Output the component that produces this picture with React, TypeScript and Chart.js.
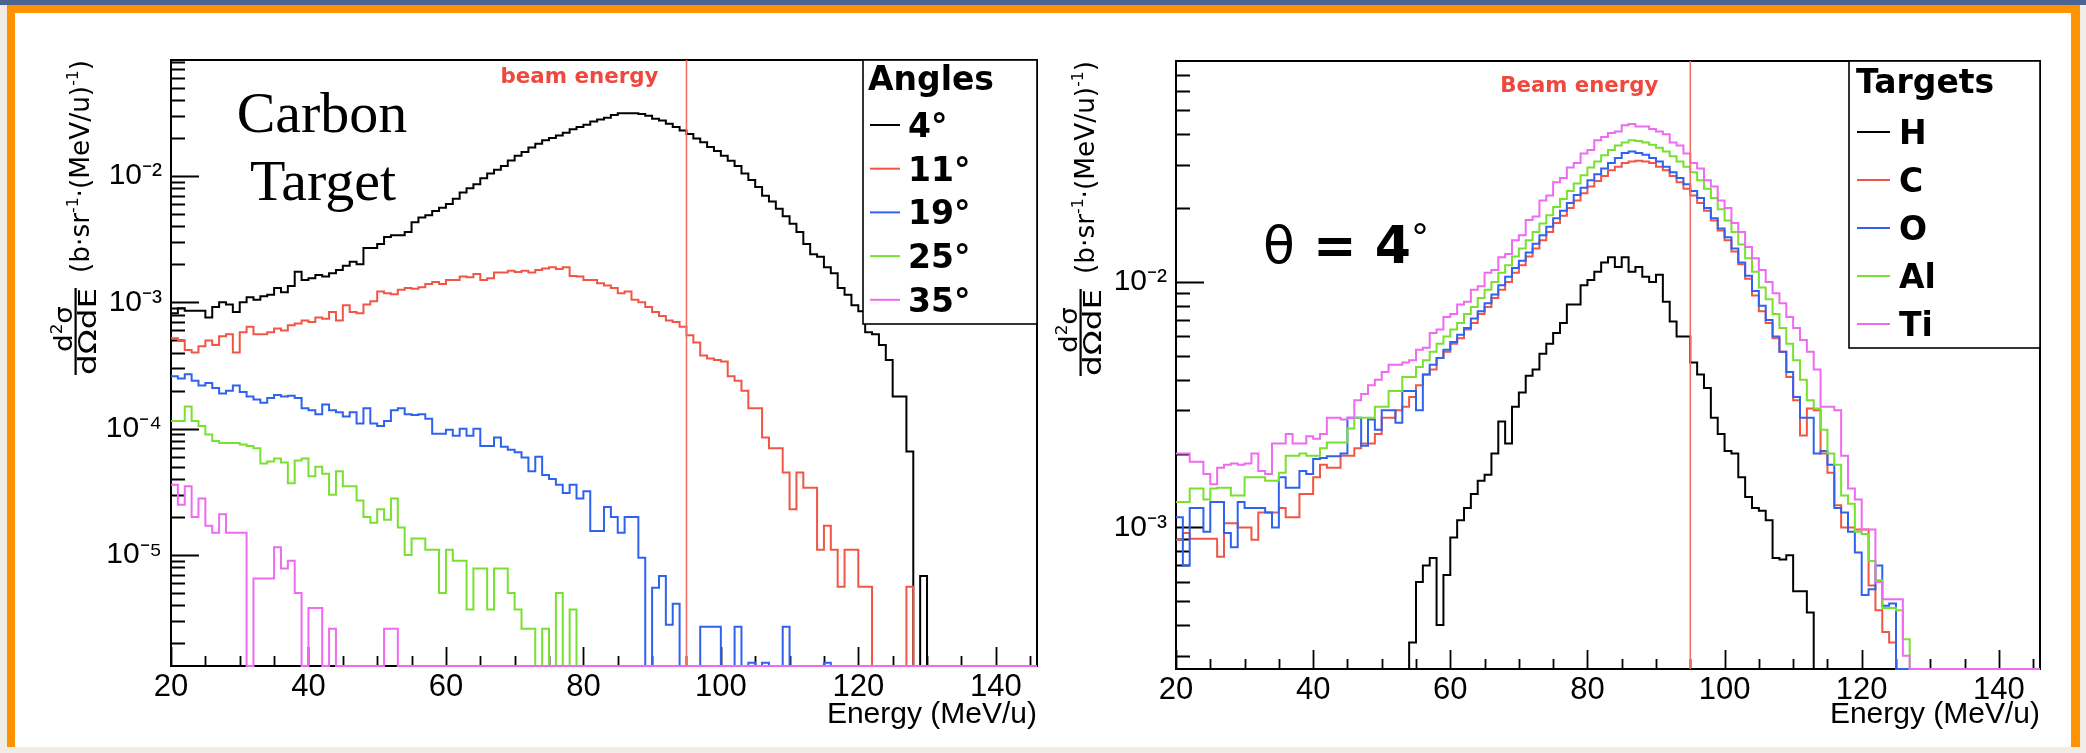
import React, { useEffect, useRef } from 'react';
import { Chart, registerables } from 'chart.js';

Chart.register(...registerables);

// ---------------- categories (1 MeV/u bins, lower edges 20 .. 145) ----------------
const BIN_WIDTH = 1;
const FIRST_BIN = 20;
const N_BINS = 126;
const binLowEdges: number[] = Array.from({ length: N_BINS }, (_, i) => FIRST_BIN + i * BIN_WIDTH);

const X_MIN = 20;
const X_MAX = 146;
const BEAM_ENERGY = 95;

const xTickValues = [20, 25, 30, 35, 40, 45, 50, 55, 60, 65, 70, 75, 80, 85, 90, 95, 100, 105, 110, 115, 120, 125, 130, 135, 140, 145];
const xLabelValues = [20, 40, 60, 80, 100, 120, 140];
const xLabelTexts = ['20', '40', '60', '80', '100', '120', '140'];

// ---------------- left panel: carbon target, several angles ----------------
const angleLabels = ['4°', '11°', '19°', '25°', '35°'];
const angleColors = ['#000000', '#f25545', '#2f62ee', '#78e030', '#ee6af0'];

const carbon4 = [
  8.2e-4, 9.0e-4, 8.6e-4, 8.6e-4, 8.6e-4, 7.6e-4, 9.2e-4, 1.0e-3, 9.6e-4, 8.4e-4,
  1.0e-3, 1.1e-3, 1.05e-3, 1.12e-3, 1.15e-3, 1.3e-3, 1.2e-3, 1.35e-3, 1.75e-3, 1.5e-3,
  1.55e-3, 1.65e-3, 1.6e-3, 1.7e-3, 1.8e-3, 1.95e-3, 2.1e-3, 2.0e-3, 2.7e-3, 2.7e-3,
  2.9e-3, 3.3e-3, 3.4e-3, 3.4e-3, 3.6e-3, 4.3e-3, 4.7e-3, 4.9e-3, 5.3e-3, 5.6e-3,
  6.0e-3, 6.6e-3, 7.4e-3, 8.0e-3, 8.6e-3, 9.6e-3, 1.05e-2, 1.12e-2, 1.2e-2, 1.33e-2,
  1.45e-2, 1.55e-2, 1.68e-2, 1.8e-2, 1.92e-2, 2.0e-2, 2.1e-2, 2.2e-2, 2.35e-2, 2.45e-2,
  2.55e-2, 2.7e-2, 2.8e-2, 2.9e-2, 3.05e-2, 3.15e-2, 3.15e-2, 3.15e-2, 3.1e-2, 3.0e-2,
  2.85e-2, 2.75e-2, 2.6e-2, 2.45e-2, 2.3e-2, 2.15e-2, 1.98e-2, 1.85e-2, 1.7e-2, 1.58e-2,
  1.45e-2, 1.32e-2, 1.2e-2, 1.05e-2, 9.3e-3, 8.2e-3, 7.0e-3, 6.3e-3, 5.5e-3, 4.8e-3,
  4.2e-3, 3.6e-3, 2.9e-3, 2.4e-3, 2.3e-3, 1.9e-3, 1.7e-3, 1.3e-3, 1.15e-3, 9.5e-4,
  8.5e-4, 5.8e-4, 5.6e-4, 4.6e-4, 3.5e-4, 1.8e-4, 1.8e-4, 6.6e-5, 0, 6.8e-6,
  0, 0, 0, 0, 0, 0, 0, 0, 0, 0,
  0, 0, 0, 0, 0, 0,
];
const carbon11 = [
  5.2e-4, 5.0e-4, 4.2e-4, 4.0e-4, 4.5e-4, 5.0e-4, 4.6e-4, 5.4e-4, 5.6e-4, 4.0e-4,
  5.8e-4, 6.4e-4, 5.6e-4, 5.6e-4, 5.8e-4, 6.2e-4, 6.0e-4, 6.6e-4, 6.8e-4, 7.2e-4,
  7.0e-4, 7.6e-4, 7.4e-4, 8.4e-4, 7.2e-4, 9.5e-4, 8.4e-4, 8.2e-4, 9.6e-4, 1.02e-3,
  1.22e-3, 1.18e-3, 1.16e-3, 1.26e-3, 1.3e-3, 1.28e-3, 1.32e-3, 1.4e-3, 1.45e-3, 1.4e-3,
  1.5e-3, 1.5e-3, 1.6e-3, 1.58e-3, 1.68e-3, 1.5e-3, 1.55e-3, 1.72e-3, 1.72e-3, 1.78e-3,
  1.74e-3, 1.78e-3, 1.72e-3, 1.8e-3, 1.85e-3, 1.9e-3, 1.84e-3, 1.9e-3, 1.62e-3, 1.6e-3,
  1.5e-3, 1.5e-3, 1.42e-3, 1.36e-3, 1.3e-3, 1.18e-3, 1.22e-3, 1.05e-3, 1.0e-3, 9.2e-4,
  8.4e-4, 7.8e-4, 7.2e-4, 7.0e-4, 6.4e-4, 5.5e-4, 4.8e-4, 3.8e-4, 3.6e-4, 3.5e-4,
  3.4e-4, 2.6e-4, 2.4e-4, 2.0e-4, 1.45e-4, 1.45e-4, 8.5e-5, 7.0e-5, 7.0e-5, 4.5e-5,
  2.3e-5, 4.5e-5, 3.4e-5, 3.4e-5, 1.1e-5, 1.7e-5, 1.1e-5, 5.6e-6, 1.1e-5, 1.1e-5,
  5.6e-6, 5.6e-6, 0, 0, 0, 0, 0, 5.6e-6, 0, 0,
  0, 0, 0, 0, 0, 0, 0, 0, 0, 0,
  0, 0, 0, 0, 0, 0,
];
const carbon19 = [
  2.6e-4, 2.5e-4, 2.7e-4, 2.4e-4, 2.2e-4, 2.3e-4, 2.1e-4, 1.9e-4, 2.0e-4, 2.2e-4,
  1.95e-4, 1.8e-4, 1.7e-4, 1.6e-4, 1.75e-4, 1.85e-4, 1.8e-4, 1.82e-4, 1.75e-4, 1.45e-4,
  1.4e-4, 1.3e-4, 1.55e-4, 1.4e-4, 1.35e-4, 1.25e-4, 1.35e-4, 1.1e-4, 1.45e-4, 1.1e-4,
  1.05e-4, 1.15e-4, 1.4e-4, 1.45e-4, 1.3e-4, 1.28e-4, 1.3e-4, 1.2e-4, 9.1e-5, 9.1e-5,
  9.8e-5, 8.8e-5, 1.0e-4, 8.8e-5, 1.0e-4, 7.3e-5, 7.3e-5, 8.5e-5, 7.2e-5, 6.8e-5,
  6.5e-5, 5.9e-5, 4.6e-5, 6.0e-5, 4.3e-5, 4.0e-5, 3.6e-5, 3.1e-5, 3.6e-5, 2.8e-5,
  3.2e-5, 1.55e-5, 1.55e-5, 2.4e-5, 2.0e-5, 1.5e-5, 2.0e-5, 2.0e-5, 9.5e-6, 0,
  5.5e-6, 6.8e-6, 2.8e-6, 4.1e-6, 0, 0, 0, 2.7e-6, 2.7e-6, 2.7e-6,
  0, 0, 2.7e-6, 0, 1.4e-6, 0, 1.4e-6, 0, 0, 2.7e-6,
  0, 0, 0, 0, 0, 1.4e-6, 0, 0, 0, 0,
  0, 0, 0, 0, 0, 0, 0, 0, 0, 0,
  0, 0, 0, 0, 0, 0, 0, 0, 0, 0,
  0, 0, 0, 0, 0, 0,
];
const carbon25 = [
  1.15e-4, 1.15e-4, 1.5e-4, 1.15e-4, 1.05e-4, 9.0e-5, 8.0e-5, 7.7e-5, 7.7e-5, 7.7e-5,
  7.5e-5, 7.3e-5, 7.0e-5, 5.3e-5, 5.5e-5, 5.8e-5, 5.4e-5, 3.7e-5, 5.6e-5, 5.8e-5,
  4.2e-5, 5.0e-5, 4.4e-5, 3.0e-5, 4.6e-5, 3.5e-5, 3.5e-5, 2.7e-5, 2.0e-5, 1.8e-5,
  2.3e-5, 1.9e-5, 2.8e-5, 1.65e-5, 1.0e-5, 1.35e-5, 1.35e-5, 1.1e-5, 1.1e-5, 5.0e-6,
  1.1e-5, 9.0e-6, 9.0e-6, 3.7e-6, 7.8e-6, 7.8e-6, 3.7e-6, 7.8e-6, 7.8e-6, 5.0e-6,
  3.7e-6, 2.6e-6, 2.6e-6, 0, 2.6e-6, 0, 5.0e-6, 0, 3.7e-6, 0,
  0, 0, 0, 0, 0, 0, 0, 0, 0, 0,
  0, 0, 0, 0, 0, 0, 0, 0, 0, 0,
  0, 0, 0, 0, 0, 0, 0, 0, 0, 0,
  0, 0, 0, 0, 0, 0, 0, 0, 0, 0,
  0, 0, 0, 0, 0, 0, 0, 0, 0, 0,
  0, 0, 0, 0, 0, 0, 0, 0, 0, 0,
  0, 0, 0, 0, 0, 0,
];
const carbon35 = [
  3.6e-5, 2.5e-5, 3.5e-5, 2.0e-5, 2.8e-5, 1.7e-5, 1.5e-5, 2.1e-5, 1.5e-5, 1.5e-5,
  1.5e-5, 0, 6.5e-6, 6.5e-6, 6.5e-6, 1.15e-5, 7.8e-6, 9.0e-6, 5.0e-6, 0,
  3.8e-6, 3.8e-6, 0, 2.6e-6, 0, 0, 0, 0, 0, 0,
  0, 2.6e-6, 2.6e-6, 0, 0, 0, 0, 0, 0, 0,
  0, 0, 0, 0, 0, 0, 0, 0, 0, 0,
  0, 0, 0, 0, 0, 0, 0, 0, 0, 0,
  0, 0, 0, 0, 0, 0, 0, 0, 0, 0,
  0, 0, 0, 0, 0, 0, 0, 0, 0, 0,
  0, 0, 0, 0, 0, 0, 0, 0, 0, 0,
  0, 0, 0, 0, 0, 0, 0, 0, 0, 0,
  0, 0, 0, 0, 0, 0, 0, 0, 0, 0,
  0, 0, 0, 0, 0, 0, 0, 0, 0, 0,
  0, 0, 0, 0, 0, 0,
];
const leftDecades = [1e-5, 1e-4, 1e-3, 1e-2];
const leftDecadeLabels = ['10⁻⁵', '10⁻⁴', '10⁻³', '10⁻²'];

// ---------------- right panel: theta = 4 deg, several targets ----------------
const targetLabels = ['H', 'C', 'O', 'Al', 'Ti'];
const targetColors = ['#000000', '#f25545', '#2f62ee', '#78e030', '#ee6af0'];

const targetH = [
  0, 0, 0, 0, 0, 0, 0, 0, 0, 0,
  0, 0, 0, 0, 0, 0, 0, 0, 0, 0,
  0, 0, 0, 0, 0, 0, 0, 0, 0, 0,
  0, 0, 0, 0, 3.4e-4, 6.0e-4, 7.0e-4, 7.5e-4, 4.0e-4, 6.4e-4,
  9.1e-4, 1.07e-3, 1.2e-3, 1.37e-3, 1.55e-3, 1.64e-3, 2.0e-3, 2.7e-3, 2.2e-3, 3.1e-3,
  3.55e-3, 4.15e-3, 4.4e-3, 5.1e-3, 5.6e-3, 6.2e-3, 6.8e-3, 8.1e-3, 8.1e-3, 9.7e-3,
  1.02e-2, 1.1e-2, 1.2e-2, 1.26e-2, 1.15e-2, 1.26e-2, 1.1e-2, 1.15e-2, 1.05e-2, 1.0e-2,
  1.07e-2, 8.3e-3, 6.9e-3, 6.0e-3, 6.0e-3, 4.7e-3, 4.2e-3, 3.7e-3, 2.8e-3, 2.4e-3,
  2.05e-3, 2.0e-3, 1.6e-3, 1.33e-3, 1.2e-3, 1.17e-3, 1.07e-3, 7.5e-4, 7.4e-4, 7.7e-4,
  5.5e-4, 5.5e-4, 4.5e-4, 0, 0, 0, 0, 0, 0, 0,
  0, 0, 0, 0, 0, 0, 0, 0, 0, 0,
  0, 0, 0, 0, 0, 0, 0, 0, 0, 0,
  0, 0, 0, 0, 0, 0,
];
const targetC = [
  8.9e-4, 9.5e-4, 9.0e-4, 9.0e-4, 9.0e-4, 9.0e-4, 7.6e-4, 1.04e-3, 1.04e-3, 1.0e-3,
  1.0e-3, 8.9e-4, 1.15e-3, 1.15e-3, 1.15e-3, 1.2e-3, 1.1e-3, 1.1e-3, 1.37e-3, 1.37e-3,
  1.6e-3, 1.8e-3, 1.75e-3, 1.75e-3, 1.96e-3, 1.96e-3, 2.1e-3, 2.2e-3, 2.2e-3, 2.4e-3,
  2.8e-3, 2.8e-3, 3.0e-3, 3.1e-3, 3.4e-3, 3.8e-3, 4.2e-3, 4.4e-3, 4.9e-3, 5.2e-3,
  5.6e-3, 5.9e-3, 6.4e-3, 6.8e-3, 7.4e-3, 7.9e-3, 8.6e-3, 9.3e-3, 1.0e-2, 1.09e-2,
  1.17e-2, 1.27e-2, 1.37e-2, 1.48e-2, 1.6e-2, 1.74e-2, 1.86e-2, 2.0e-2, 2.15e-2, 2.3e-2,
  2.45e-2, 2.58e-2, 2.7e-2, 2.85e-2, 2.95e-2, 3.05e-2, 3.1e-2, 3.12e-2, 3.1e-2, 3.05e-2,
  2.95e-2, 2.85e-2, 2.7e-2, 2.55e-2, 2.4e-2, 2.25e-2, 2.1e-2, 1.95e-2, 1.78e-2, 1.62e-2,
  1.48e-2, 1.33e-2, 1.18e-2, 1.03e-2, 8.8e-3, 7.6e-3, 6.8e-3, 5.9e-3, 5.2e-3, 4.1e-3,
  3.3e-3, 2.37e-3, 3.05e-3, 3.0e-3, 2.0e-3, 1.67e-3, 1.23e-3, 1.0e-3, 1.0e-3, 9.8e-4,
  9.8e-4, 5.8e-4, 4.6e-4, 3.75e-4, 3.4e-4, 0, 0, 0, 0, 0,
  0, 0, 0, 0, 0, 0, 0, 0, 0, 0,
  0, 0, 0, 0, 0, 0,
];
const targetO = [
  1.1e-3, 7.0e-4, 1.2e-3, 1.2e-3, 9.6e-4, 1.27e-3, 1.27e-3, 9.5e-4, 8.3e-4, 1.27e-3,
  1.2e-3, 1.2e-3, 1.2e-3, 1.15e-3, 1.0e-3, 1.6e-3, 1.45e-3, 1.45e-3, 1.7e-3, 1.65e-3,
  1.9e-3, 1.92e-3, 1.95e-3, 1.95e-3, 2.0e-3, 2.8e-3, 2.8e-3, 2.15e-3, 2.75e-3, 2.5e-3,
  3.0e-3, 3.0e-3, 2.67e-3, 3.6e-3, 3.6e-3, 3.0e-3, 4.2e-3, 4.6e-3, 4.9e-3, 5.3e-3,
  5.7e-3, 6.1e-3, 6.5e-3, 7.1e-3, 7.6e-3, 8.2e-3, 8.9e-3, 9.7e-3, 1.05e-2, 1.14e-2,
  1.22e-2, 1.32e-2, 1.43e-2, 1.55e-2, 1.68e-2, 1.82e-2, 1.95e-2, 2.1e-2, 2.26e-2, 2.42e-2,
  2.6e-2, 2.75e-2, 2.9e-2, 3.05e-2, 3.2e-2, 3.35e-2, 3.4e-2, 3.35e-2, 3.3e-2, 3.2e-2,
  3.1e-2, 2.95e-2, 2.8e-2, 2.65e-2, 2.5e-2, 2.35e-2, 2.2e-2, 2.0e-2, 1.82e-2, 1.65e-2,
  1.52e-2, 1.37e-2, 1.2e-2, 1.06e-2, 9.2e-3, 8.0e-3, 7.0e-3, 6.0e-3, 5.2e-3, 4.3e-3,
  3.4e-3, 2.8e-3, 2.8e-3, 2.0e-3, 2.05e-3, 1.8e-3, 1.2e-3, 1.15e-3, 9.6e-4, 7.9e-4,
  5.3e-4, 5.6e-4, 7.0e-4, 4.8e-4, 4.9e-4, 0, 0, 0, 0, 0,
  0, 0, 0, 0, 0, 0, 0, 0, 0, 0,
  0, 0, 0, 0, 0, 0,
];
const targetAl = [
  1.27e-3, 1.27e-3, 1.44e-3, 1.44e-3, 1.3e-3, 1.44e-3, 1.45e-3, 1.45e-3, 1.35e-3, 1.35e-3,
  1.6e-3, 1.6e-3, 1.6e-3, 1.55e-3, 1.55e-3, 1.67e-3, 1.96e-3, 1.96e-3, 2.0e-3, 1.96e-3,
  1.96e-3, 2.1e-3, 2.22e-3, 2.22e-3, 2.22e-3, 2.53e-3, 2.8e-3, 2.8e-3, 2.8e-3, 3.1e-3,
  3.1e-3, 3.6e-3, 3.6e-3, 4.1e-3, 4.1e-3, 4.5e-3, 4.8e-3, 5.2e-3, 5.6e-3, 6.0e-3,
  6.4e-3, 6.8e-3, 7.4e-3, 7.9e-3, 8.6e-3, 9.3e-3, 1.0e-2, 1.09e-2, 1.17e-2, 1.27e-2,
  1.37e-2, 1.48e-2, 1.6e-2, 1.73e-2, 1.87e-2, 2.02e-2, 2.18e-2, 2.35e-2, 2.52e-2, 2.72e-2,
  2.93e-2, 3.1e-2, 3.28e-2, 3.45e-2, 3.6e-2, 3.7e-2, 3.78e-2, 3.75e-2, 3.7e-2, 3.62e-2,
  3.52e-2, 3.4e-2, 3.25e-2, 3.1e-2, 2.95e-2, 2.8e-2, 2.6e-2, 2.4e-2, 2.2e-2, 1.98e-2,
  1.78e-2, 1.6e-2, 1.42e-2, 1.25e-2, 1.1e-2, 9.5e-3, 8.5e-3, 7.4e-3, 6.5e-3, 5.6e-3,
  4.8e-3, 4.0e-3, 3.3e-3, 3.05e-3, 2.5e-3, 2.0e-3, 1.8e-3, 1.35e-3, 1.25e-3, 9.6e-4,
  9.4e-4, 7.3e-4, 6.1e-4, 4.7e-4, 4.7e-4, 4.6e-4, 3.5e-4, 0, 0, 0,
  0, 0, 0, 0, 0, 0, 0, 0, 0, 0,
  0, 0, 0, 0, 0, 0,
];
const targetTi = [
  2.0e-3, 2.0e-3, 1.85e-3, 1.85e-3, 1.65e-3, 1.5e-3, 1.75e-3, 1.8e-3, 1.82e-3, 1.8e-3,
  1.82e-3, 2.0e-3, 1.7e-3, 1.65e-3, 2.2e-3, 2.2e-3, 2.4e-3, 2.2e-3, 2.2e-3, 2.35e-3,
  2.3e-3, 2.4e-3, 2.8e-3, 2.8e-3, 2.75e-3, 2.8e-3, 3.3e-3, 3.5e-3, 3.8e-3, 4.0e-3,
  4.3e-3, 4.6e-3, 4.6e-3, 4.7e-3, 4.8e-3, 5.3e-3, 5.4e-3, 6.2e-3, 6.4e-3, 7.2e-3,
  7.4e-3, 8.1e-3, 8.3e-3, 9.3e-3, 9.6e-3, 1.09e-2, 1.12e-2, 1.26e-2, 1.3e-2, 1.48e-2,
  1.55e-2, 1.79e-2, 1.85e-2, 2.15e-2, 2.25e-2, 2.55e-2, 2.65e-2, 2.93e-2, 3.05e-2, 3.34e-2,
  3.45e-2, 3.78e-2, 3.9e-2, 4.05e-2, 4.1e-2, 4.35e-2, 4.4e-2, 4.3e-2, 4.3e-2, 4.2e-2,
  4.1e-2, 4.0e-2, 3.7e-2, 3.6e-2, 3.34e-2, 3.05e-2, 2.9e-2, 2.6e-2, 2.45e-2, 2.15e-2,
  2.0e-2, 1.74e-2, 1.6e-2, 1.39e-2, 1.25e-2, 1.12e-2, 1.0e-2, 9.0e-3, 8.2e-3, 7.2e-3,
  6.5e-3, 5.8e-3, 5.2e-3, 4.4e-3, 3.1e-3, 3.1e-3, 3.0e-3, 1.96e-3, 1.44e-3, 1.3e-3,
  9.8e-4, 9.8e-4, 6.0e-4, 5.1e-4, 5.1e-4, 5.1e-4, 3.0e-4, 0, 0, 0,
  0, 0, 0, 0, 0, 0, 0, 0, 0, 0,
  0, 0, 0, 0, 0, 0,
];
const rightDecades = [1e-3, 1e-2];
const rightDecadeLabels = ['10⁻³', '10⁻²'];

// ---------------- panel descriptions ----------------
type Panel = {
  series: number[][];
  labels: string[];
  colors: string[];
  yMin: number;
  yMax: number;
  decades: number[];
  decadeLabels: string[];
  legendTitle: string;
  beamText: string;
  padRight: number;
  padTop: number;
  yAxisWidth: number;
  xAxisHeight: number;
  beamTextDx: number;
  beamTextDy: number;
  legend: { left: number; bottom: number; titleX: number; titleBase: number; lineX0: number; lineX1: number; row0: number; rowGap: number; textX: number };
  kind: 'left' | 'right';
};

const leftPanel: Panel = {
  series: [carbon4, carbon11, carbon19, carbon25, carbon35],
  labels: angleLabels,
  colors: angleColors,
  yMin: 1.32e-6,
  yMax: 8.3e-2,
  decades: leftDecades,
  decadeLabels: leftDecadeLabels,
  legendTitle: 'Angles',
  beamText: 'beam energy',
  padRight: 6,
  padTop: 47,
  yAxisWidth: 156,
  xAxisHeight: 81,
  beamTextDx: -28,
  beamTextDy: 23,
  legend: { left: 848, bottom: 311, titleX: 853, titleBase: 77, lineX0: 855, lineX1: 885, row0: 112, rowGap: 43.7, textX: 893 },
  kind: 'left',
};

const rightPanel: Panel = {
  series: [targetH, targetC, targetO, targetAl, targetTi],
  labels: targetLabels,
  colors: targetColors,
  yMin: 2.65e-4,
  yMax: 7.95e-2,
  decades: rightDecades,
  decadeLabels: rightDecadeLabels,
  legendTitle: 'Targets',
  beamText: 'Beam energy',
  padRight: 31,
  padTop: 48,
  yAxisWidth: 133,
  xAxisHeight: 78,
  beamTextDx: -32,
  beamTextDy: 31,
  legend: { left: 806, bottom: 335, titleX: 813, titleBase: 80, lineX0: 814, lineX1: 847, row0: 119, rowGap: 48, textX: 856 },
  kind: 'right',
};

// ---------------- drawing helpers ----------------
type Run = { text: string; font: string; dy?: number };

function drawRuns(ctx: CanvasRenderingContext2D, runs: Run[], x: number, y: number, align: 'left' | 'center' | 'right', targetWidth?: number, color = '#000') {
  ctx.save();
  ctx.fillStyle = color;
  ctx.textBaseline = 'alphabetic';
  ctx.textAlign = 'left';
  const widths = runs.map((r) => {
    ctx.font = r.font;
    return ctx.measureText(r.text).width;
  });
  const total = widths.reduce((a, b) => a + b, 0);
  const sx = targetWidth ? targetWidth / total : 1;
  const w = total * sx;
  const x0 = align === 'left' ? x : align === 'right' ? x - w : x - w / 2;
  ctx.translate(x0, y);
  ctx.scale(sx, 1);
  let cx = 0;
  runs.forEach((r, i) => {
    ctx.font = r.font;
    ctx.fillText(r.text, cx, r.dy || 0);
    cx += widths[i];
  });
  ctx.restore();
}

const isDecade = (v: number) => Math.abs(Math.log10(v) - Math.round(Math.log10(v))) < 1e-6;

function histogramPoints(values: number[], floor: number) {
  const pts = values.map((v, i) => ({ x: binLowEdges[i], y: v > 0 ? v : floor }));
  const last = values[values.length - 1];
  pts.push({ x: binLowEdges[values.length - 1] + BIN_WIDTH, y: last > 0 ? last : floor });
  return pts;
}

function makePlugin(p: Panel) {
  return {
    id: 'rootStyle',
    beforeDatasetsDraw(chart: any) {
      const { ctx, chartArea: a, scales } = chart;
      const x = scales.x;
      const y = scales.y;
      ctx.save();
      ctx.strokeStyle = '#000';
      ctx.lineWidth = 2;
      ctx.strokeRect(a.left, a.top, a.right - a.left, a.bottom - a.top);
      ctx.lineWidth = 1.8;
      ctx.beginPath();
      x.ticks.forEach((t: any) => {
        const px = Math.round(x.getPixelForValue(t.value)) + 0.5;
        const len = t.value % 20 === 0 ? 19 : 10;
        ctx.moveTo(px, a.bottom);
        ctx.lineTo(px, a.bottom - len);
      });
      y.ticks.forEach((t: any) => {
        const py = Math.round(y.getPixelForValue(t.value)) + 0.5;
        const len = isDecade(t.value) ? 28 : 14;
        ctx.moveTo(a.left, py);
        ctx.lineTo(a.left + len, py);
      });
      ctx.stroke();
      ctx.restore();
    },
    afterDraw(chart: any) {
      const { ctx, chartArea: a, scales } = chart;
      const beamPx = scales.x.getPixelForValue(BEAM_ENERGY);

      // beam energy label
      drawRuns(ctx, [{ text: p.beamText, font: 'bold 21px "DejaVu Sans"' }], beamPx + p.beamTextDx, a.top + p.beamTextDy, 'right', 158, '#f0483c');

      // panel annotation
      if (p.kind === 'left') {
        drawRuns(ctx, [{ text: 'Carbon', font: '58px "Liberation Serif"' }], 307, 119, 'center');
        drawRuns(ctx, [{ text: 'Target', font: '58px "Liberation Serif"' }], 308, 187, 'center');
      } else {
        drawRuns(ctx, [
          { text: 'θ', font: '52px "DejaVu Sans"' },
          { text: ' = 4', font: 'bold 52px "DejaVu Sans"' },
          { text: '°', font: '36px "DejaVu Sans"', dy: -14 },
        ], 220, 250, 'left', 166);
      }

      // legend
      const L = p.legend;
      ctx.save();
      ctx.fillStyle = '#fff';
      ctx.fillRect(L.left, a.top, a.right - L.left, L.bottom - a.top);
      ctx.strokeStyle = '#000';
      ctx.lineWidth = 1.6;
      ctx.strokeRect(L.left, a.top, a.right - L.left, L.bottom - a.top);
      ctx.restore();
      drawRuns(ctx, [{ text: p.legendTitle, font: 'bold 33px "DejaVu Sans"' }], L.titleX, L.titleBase, 'left');
      p.labels.forEach((lab, i) => {
        const ry = L.row0 + i * L.rowGap;
        ctx.save();
        ctx.strokeStyle = p.colors[i];
        ctx.lineWidth = 2;
        ctx.beginPath();
        ctx.moveTo(L.lineX0, ry);
        ctx.lineTo(L.lineX1, ry);
        ctx.stroke();
        ctx.restore();
        drawRuns(ctx, [{ text: lab, font: 'bold 33px "DejaVu Sans"' }], L.textX, ry + 12, 'left');
      });

      // y-axis title: d2sigma / dOmega dE (b.sr-1.(MeV/u)-1)
      const ff = '25px "DejaVu Sans"';
      const ffs = '15px "DejaVu Sans"';
      const f = '27px "DejaVu Sans"';
      const fs = '16px "DejaVu Sans"';
      ctx.save();
      ctx.translate(a.left - 94, a.top + 315);
      ctx.rotate(-Math.PI / 2);
      drawRuns(ctx, [{ text: 'd', font: ff }, { text: '2', font: ffs, dy: -10 }, { text: 'σ', font: ff }], 46, -5, 'center', 46);
      ctx.fillStyle = '#000';
      ctx.fillRect(0, -2.5, 87, 2.2);
      drawRuns(ctx, [{ text: 'dΩdE', font: ff }], 43.5, 19, 'center', 87);
      drawRuns(ctx, [
        { text: '(b·sr', font: f },
        { text: '-1', font: fs, dy: -11 },
        { text: '·(MeV/u)', font: f },
        { text: '-1', font: fs, dy: -11 },
        { text: ')', font: f },
      ], 102, 12, 'left', 213);
      ctx.restore();
    },
  };
}

function buildConfig(p: Panel) {
  const datasets: any[] = p.series.map((vals, i) => ({
    label: p.labels[i],
    data: histogramPoints(vals, p.yMin),
    borderColor: p.colors[i],
    backgroundColor: p.colors[i],
    borderWidth: 2,
    stepped: 'before',
    pointRadius: 0,
    fill: false,
    order: p.series.length - i + 1,
    clip: 4,
  }));
  datasets.push({
    label: 'beam energy',
    data: [{ x: BEAM_ENERGY, y: p.yMin }, { x: BEAM_ENERGY, y: p.yMax }],
    borderColor: '#f27068',
    borderWidth: 1.6,
    pointRadius: 0,
    fill: false,
    order: 0,
  });

  const tickFont = { family: '"Liberation Sans", Arial, sans-serif', size: 31, lineHeight: 1 };

  return {
    type: 'line',
    data: { datasets },
    plugins: [makePlugin(p)],
    options: {
      animation: false,
      responsive: false,
      devicePixelRatio: 1,
      parsing: true,
      layout: { padding: { left: 0, right: p.padRight, top: p.padTop, bottom: 0 } },
      plugins: { legend: { display: false }, tooltip: { enabled: false }, title: { display: false } },
      scales: {
        x: {
          type: 'linear',
          min: X_MIN,
          max: X_MAX,
          afterBuildTicks: (s: any) => {
            s.ticks = xTickValues.map((v) => ({ value: v }));
          },
          afterFit: (s: any) => {
            s.height = p.xAxisHeight;
          },
          ticks: {
            autoSkip: false,
            maxRotation: 0,
            minRotation: 0,
            padding: 6,
            color: '#000',
            font: tickFont,
            callback: (v: number) => {
              const i = xLabelValues.indexOf(v);
              return i >= 0 ? xLabelTexts[i] : '';
            },
          },
          grid: { display: false, drawTicks: false },
          border: { display: true, color: '#000', width: 2 },
          title: {
            display: true,
            text: 'Energy (MeV/u)',
            align: 'end',
            color: '#000',
            font: { family: '"Liberation Sans", Arial, sans-serif', size: 30, lineHeight: 1 },
            padding: { top: 0, bottom: 17 },
          },
        },
        y: {
          type: 'logarithmic',
          min: p.yMin,
          max: p.yMax,
          afterBuildTicks: (s: any) => {
            const ticks: any[] = [];
            const e0 = Math.floor(Math.log10(p.yMin));
            const e1 = Math.ceil(Math.log10(p.yMax));
            for (let e = e0; e <= e1; e++) {
              for (let m = 1; m <= 9; m++) {
                const v = m * Math.pow(10, e);
                if (v >= p.yMin && v <= p.yMax) ticks.push({ value: v });
              }
            }
            s.ticks = ticks;
          },
          afterFit: (s: any) => {
            s.width = p.yAxisWidth;
          },
          ticks: {
            autoSkip: false,
            padding: 9,
            color: '#000',
            font: { family: '"Liberation Sans", Arial, sans-serif', size: 30, lineHeight: 1 },
            callback: (v: number) => {
              const i = p.decades.findIndex((d) => Math.abs(v / d - 1) < 1e-6);
              return i >= 0 ? p.decadeLabels[i] : '';
            },
          },
          grid: { display: false, drawTicks: false },
          border: { display: true, color: '#000', width: 2 },
        },
      },
    },
  };
}

function PanelChart({ panel, left, top }: { panel: Panel; left: number; top: number }) {
  const ref = useRef<HTMLCanvasElement>(null);
  useEffect(() => {
    if (!ref.current) return;
    const chart = new Chart(ref.current, buildConfig(panel) as any);
    return () => chart.destroy();
  }, [panel]);
  return (
    <canvas
      ref={ref}
      width={1028}
      height={734}
      style={{ position: 'absolute', left, top, width: 1028, height: 734, display: 'block' }}
    />
  );
}

export default function App() {
  return (
    <div style={{ position: 'fixed', left: 0, top: 0, width: 2086, height: 753, background: '#f1ede6', overflow: 'hidden' }}>
      <div style={{ position: 'absolute', left: 0, top: 0, width: 2086, height: 5, background: '#4b6491' }} />
      <div style={{ position: 'absolute', left: 7, top: 5, width: 2073, height: 742, background: '#ff9200' }} />
      <div style={{ position: 'absolute', left: 15, top: 13, width: 2056, height: 734, background: '#ffffff' }} />
      <PanelChart panel={leftPanel} left={15} top={13} />
      <PanelChart panel={rightPanel} left={1043} top={13} />
    </div>
  );
}
